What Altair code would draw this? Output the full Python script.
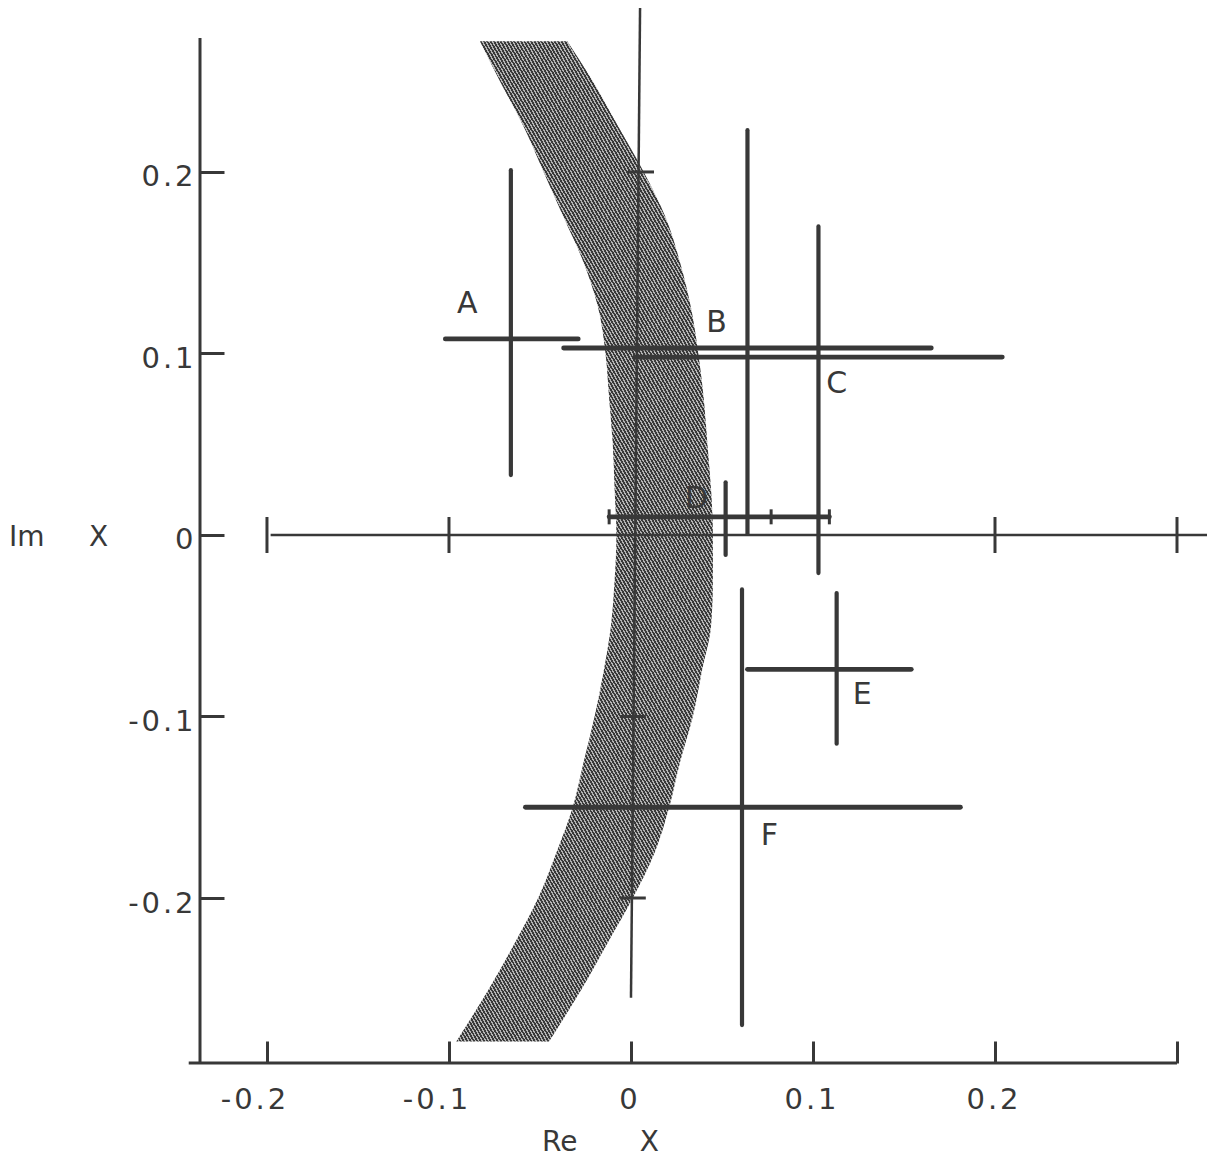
import altair as alt
import pandas as pd

# ---------------- data ----------------
RE_MIN, RE_MAX = -0.2368, 0.3          # plot frame (Re X)
IM_MIN, IM_MAX = -0.2909, 0.2738       # plot frame (Im X)

X_TICKS = [-0.2, -0.1, 0, 0.1, 0.2, 0.3]
X_TICK_LABELS = ["-0.2", "-0.1", "0", "0.1", "0.2", ""]
Y_TICKS = [-0.2, -0.1, 0, 0.1, 0.2]
Y_TICK_LABELS = ["-0.2", "-0.1", "0", "0.1", "0.2"]

POINTS = ["A", "B", "C", "D", "E", "F"]
RE_CENTER = [-0.066, 0.064, 0.103, 0.052, 0.113, 0.061]
IM_CENTER = [0.108, 0.103, 0.098, 0.010, -0.074, -0.150]
RE_LOW = [-0.102, -0.037, 0.002, -0.012, 0.064, -0.058]
RE_HIGH = [-0.029, 0.165, 0.204, 0.109, 0.154, 0.181]
IM_LOW = [0.033, 0.001, -0.021, -0.011, -0.115, -0.270]
IM_HIGH = [0.201, 0.223, 0.170, 0.029, -0.032, -0.030]
LABEL_RE = [-0.090, 0.047, 0.113, 0.036, 0.127, 0.076]
LABEL_IM = [0.127, 0.117, 0.083, 0.020, -0.088, -0.166]

D_MARKS_RE = [-0.012, 0.077, 0.109]   # end caps and inner mark on D's bar

BAND_IM = [0.272, 0.25, 0.225, 0.2, 0.175, 0.15, 0.125, 0.1, 0.075, 0.05, 0.025, 0.0,
           -0.025, -0.05, -0.075, -0.1, -0.125, -0.15, -0.175, -0.2, -0.225, -0.25, -0.279]
BAND_LEFT = [-0.083, -0.072, -0.059, -0.048, -0.037, -0.026, -0.018, -0.014, -0.012, -0.010,
             -0.009, -0.008, -0.009, -0.011, -0.015, -0.020, -0.026, -0.032, -0.041, -0.051,
             -0.064, -0.078, -0.096]
BAND_RIGHT = [-0.035, -0.021, -0.007, 0.007, 0.019, 0.027, 0.033, 0.037, 0.040, 0.042,
              0.044, 0.045, 0.045, 0.044, 0.039, 0.034, 0.027, 0.021, 0.013, 0.001,
              -0.013, -0.027, -0.045]

INNER_X_TICKS = [-0.2, -0.1, 0.2, 0.3]
INNER_Y_TICKS = [0.2, -0.1, -0.2]
INNER_Y_TICKS_RE = [0.0055, 0.001, 0.001]
INNER_H = {"re": [-0.198], "re2": [0.33], "im": [0.0]}
INNER_V = {"re": [0.005], "re2": [0.0], "im": [0.292], "im2": [-0.255]}
FRAME_LEFT = {"re": [RE_MIN], "im": [IM_MIN], "im2": [IM_MAX]}
FRAME_BOTTOM = {"re": [-0.243], "re2": [RE_MAX], "im": [IM_MIN]}

# ---------------- styling ----------------
INK = "#383838"
FONT = "DejaVu Sans"
NB = "\u00a0"
HS = "\u200a"   # hair space, widens the lettering a little


def spaced(s):
    return HS.join(list(s))


def label_expr(values, labels):
    expr = "''"
    for v, l in zip(values, labels):
        expr = f"abs(datum.value - ({v})) < 1e-9 ? '{spaced(l)}' : ({expr})"
    return expr


# hatched fill for the band: thin diagonal stripes made from gradient stops
N_STRIPES = 250
stops = []
for i in range(N_STRIPES):
    a, m, b = i / N_STRIPES, (i + 0.58) / N_STRIPES, (i + 1) / N_STRIPES
    stops += [alt.GradientStop(offset=a, color="#3a3a3a"),
              alt.GradientStop(offset=m, color="#3a3a3a"),
              alt.GradientStop(offset=m, color="#b4b4b4"),
              alt.GradientStop(offset=b, color="#b4b4b4")]
HATCH = alt.LinearGradient(gradient="linear", stops=stops,
                           x1=0, y1=1, x2=0.5424, y2=-0.22)

XS = alt.Scale(domain=[RE_MIN, RE_MAX], nice=False, zero=False)
YS = alt.Scale(domain=[IM_MIN, IM_MAX], nice=False, zero=False)

XAXIS = alt.Axis(values=X_TICKS, labelExpr=label_expr(X_TICKS, X_TICK_LABELS),
                 domain=False, grid=False, tickSize=22, tickWidth=3, tickColor=INK,
                 offset=-22, labelPadding=22, labelFontSize=29, labelFont=FONT,
                 labelColor=INK, labelBaseline="top", labelAlign="center",
                 labelOffset={"condition": {"test": "datum.value < 0", "value": -14},
                              "value": -3},
                 labelFlush=False, labelOverlap=False,
                 title="Re" + NB * 7 + "X", titleFont=FONT, titleFontSize=28,
                 titleFontWeight="normal", titleColor=INK, titleX=400, titleY=109,
                 titleAlign="center", titleBaseline="alphabetic")
YAXIS = alt.Axis(values=Y_TICKS, labelExpr=label_expr(Y_TICKS, Y_TICK_LABELS),
                 domain=False, grid=False, tickSize=24, tickWidth=3, tickColor=INK,
                 offset=-24, labelPadding=7, labelFontSize=29, labelFont=FONT,
                 labelColor=INK, labelBaseline="middle", labelAlign="right",
                 labelOffset=5, labelFlush=False, labelOverlap=False,
                 title="Im" + NB * 5 + "X", titleFont=FONT, titleFontSize=28,
                 titleFontWeight="normal", titleColor=INK, titleAngle=0,
                 titleX=-166, titleY=507, titleAlign="center",
                 titleBaseline="alphabetic")


def X(field):
    return alt.X(field, type="quantitative", scale=XS, axis=XAXIS)


def Y(field):
    return alt.Y(field, type="quantitative", scale=YS, axis=YAXIS)


band_df = pd.DataFrame({"im": BAND_IM, "left": BAND_LEFT, "right": BAND_RIGHT})
cross_df = pd.DataFrame({"label": POINTS, "re": RE_CENTER, "im": IM_CENTER,
                         "re_lo": RE_LOW, "re_hi": RE_HIGH,
                         "im_lo": IM_LOW, "im_hi": IM_HIGH,
                         "lre": LABEL_RE, "lim": LABEL_IM})
dmarks_df = pd.DataFrame({"re": D_MARKS_RE, "im": [IM_CENTER[3]] * len(D_MARKS_RE)})
ixt_df = pd.DataFrame({"re": INNER_X_TICKS, "im": [0.0] * len(INNER_X_TICKS)})
iyt_df = pd.DataFrame({"re": INNER_Y_TICKS_RE, "im": INNER_Y_TICKS})

band = alt.Chart(band_df).mark_area(orient="horizontal", fill=HATCH, opacity=1,
                                    interpolate="monotone").encode(
    y=Y("im"), x=X("left"), x2="right")

inner_h = alt.Chart(pd.DataFrame(INNER_H)).mark_rule(color=INK, strokeWidth=2.5).encode(
    x=X("re"), x2="re2", y=Y("im"))
inner_v = alt.Chart(pd.DataFrame(INNER_V)).mark_rule(color=INK, strokeWidth=2.5).encode(
    x=X("re"), x2="re2", y=Y("im"), y2="im2")
inner_xt = alt.Chart(ixt_df).mark_tick(orient="vertical", size=36, thickness=3,
                                       color=INK, opacity=1).encode(x=X("re"), y=Y("im"))
inner_yt = alt.Chart(iyt_df).mark_tick(orient="horizontal", size=26, thickness=3,
                                       color=INK, opacity=1).encode(x=X("re"), y=Y("im"))

cross_h = alt.Chart(cross_df).mark_rule(color=INK, strokeWidth=4.8, strokeCap="round").encode(
    x=X("re_lo"), x2="re_hi", y=Y("im"))
cross_v = alt.Chart(cross_df).mark_rule(color=INK, strokeWidth=4.2, strokeCap="round").encode(
    x=X("re"), y=Y("im_lo"), y2="im_hi")
dmarks = alt.Chart(dmarks_df).mark_tick(orient="vertical", size=15, thickness=3,
                                        color=INK, opacity=1).encode(x=X("re"), y=Y("im"))

frame_l = alt.Chart(pd.DataFrame(FRAME_LEFT)).mark_rule(color=INK, strokeWidth=3).encode(
    x=X("re"), y=Y("im"), y2="im2")
frame_b = alt.Chart(pd.DataFrame(FRAME_BOTTOM)).mark_rule(color=INK, strokeWidth=3).encode(
    x=X("re"), x2="re2", y=Y("im"))

labels = alt.Chart(cross_df).mark_text(font=FONT, fontSize=30, color=INK,
                                       align="center", baseline="middle").encode(
    x=X("lre"), y=Y("lim"), text="label:N")

chart = alt.layer(
    band, inner_h, inner_v, inner_xt, inner_yt, cross_h, cross_v, dmarks,
    frame_l, frame_b, labels
).properties(
    width=977, height=1025,
    autosize=alt.AutoSizeParams(type="none"),
    padding={"left": 192, "top": 30, "right": 30, "bottom": 94},
    background="white",
).configure_view(stroke=None)

chart.save("out.html", embed_options={"renderer": "svg", "actions": False})
